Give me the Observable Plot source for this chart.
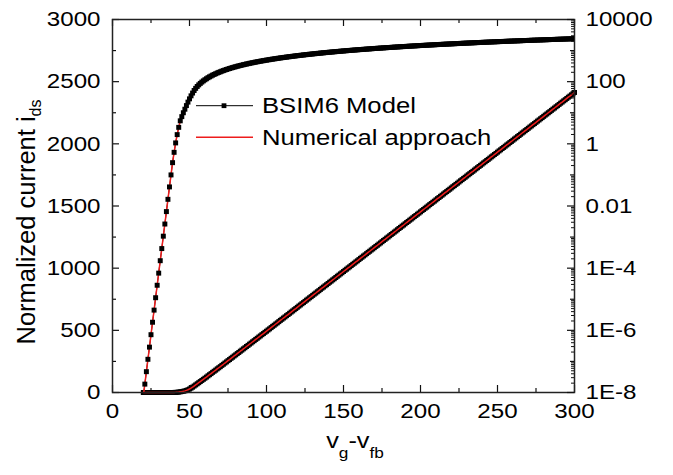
<!DOCTYPE html>
<html><head><meta charset="utf-8">
<script src="https://cdn.jsdelivr.net/npm/d3@7"></script>
<script src="https://cdn.jsdelivr.net/npm/@observablehq/plot@0.6"></script>
<style>
html,body{margin:0;padding:0;background:#fff;}
#chart{position:relative;width:673px;height:475px;font-family:"Liberation Sans",Arial,Helvetica,sans-serif;}
#chart svg{position:absolute;left:0;top:0;}
</style></head><body><div id="chart"></div>
<script>
// ---- data ----
// gate voltage grid: one sample per unit from 20 to 300 (markers are drawn at every unit)
const vg = d3.range(20, 301, 1);
const ids = [
  7.6e-9,1.86e-8,4.68e-8,1.17e-7,2.88e-7,7.24e-7,1.82e-6,4.47e-6,1.12e-5,2.82e-5,           // 20-29
  6.92e-5,1.74e-4,4.27e-4,1.07e-3,2.63e-3,6.61e-3,0.0164,0.0411,0.100,0.248,              // 30-39
  0.533,1.07,1.98,3.39,5.5,7.5,10,13,17,22,                                               // 40-49
  28,35,43,52,61,70,79,88,97,106,                                                          // 50-59
  115,124,134,143,152,162,171,180,190,199,                                                 // 60-69
  208,218,227,237,246,256,265,275,284,294,                                                 // 70-79
  303,313,322,332,341,351,360,370,379,389,                                                 // 80-89
  398,408,417,427,436,446,455,465,474,484,                                                 // 90-99
  493,503,512,522,532,541,551,560,570,580,                                                 // 100-109
  589,599,608,618,627,637,647,656,666,675,                                                 // 110-119
  685,695,704,714,723,733,743,752,762,771,                                                 // 120-129
  781,791,800,810,819,829,839,848,858,867,                                                 // 130-139
  877,887,896,906,915,925,935,944,954,963,                                                 // 140-149
  973,983,992,1002,1011,1021,1031,1040,1050,1059,                                          // 150-159
  1069,1079,1088,1098,1107,1117,1127,1136,1146,1155,                                       // 160-169
  1165,1175,1184,1194,1203,1213,1223,1232,1242,1251,                                       // 170-179
  1261,1271,1280,1290,1299,1309,1319,1328,1338,1347,                                       // 180-189
  1357,1367,1376,1386,1395,1405,1415,1424,1434,1443,                                       // 190-199
  1453,1463,1472,1482,1491,1501,1511,1520,1530,1539,                                       // 200-209
  1549,1559,1568,1578,1587,1597,1607,1616,1626,1635,                                       // 210-219
  1645,1655,1664,1674,1683,1693,1703,1712,1722,1731,                                       // 220-229
  1741,1751,1760,1770,1779,1789,1799,1808,1818,1827,                                       // 230-239
  1837,1847,1856,1866,1875,1885,1895,1904,1914,1923,                                       // 240-249
  1933,1943,1952,1962,1971,1981,1991,2000,2010,2019,                                       // 250-259
  2029,2039,2048,2058,2067,2077,2087,2096,2106,2115,                                       // 260-269
  2125,2135,2144,2154,2163,2173,2183,2192,2202,2211,                                       // 270-279
  2221,2231,2240,2250,2259,2269,2279,2288,2298,2307,                                       // 280-289
  2317,2327,2336,2346,2355,2365,2375,2384,2394,2403,                                       // 290-299
  2413];                                                                                   // 300
const numerical = ids; // the numerical curve coincides with the BSIM6 model curve in the picture

const xTicks = [0,50,100,150,200,250,300];
const xMinorTicks = [25,75,125,175,225,275];
const leftTicks = [0,500,1000,1500,2000,2500,3000];
const leftMinorTicks = [250,750,1250,1750,2250,2750];
const rightTicks = [1e-8,1e-6,1e-4,1e-2,1,1e2,1e4];
const rightTickLabels = ["1E-8","1E-6","1E-4","0.01","1","100","10000"];
const rightMidTicks = [1e-7,1e-5,1e-3,1e-1,10,1000];
const rightMinorTicks = [];
for (let e = -8; e < 4; e++) for (let k = 2; k < 10; k++) rightMinorTicks.push(k * Math.pow(10, e));

const seriesNames = ["BSIM6 Model", "Numerical approach"];
const xTitle = ["v", "g", "-v", "fb"];
const yTitle = ["Normalized current i", "ds"];

// ---- layout ----
const W = 673, H = 475;
const M = {marginLeft: 112, marginRight: 99, marginTop: 19, marginBottom: 83};
const plotW = W - M.marginLeft - M.marginRight;
const plotH = H - M.marginTop - M.marginBottom;
const MAJ = 7, MIN = 4, TINY = 3;
const RED = "#ee1c1c";
const FONT = "Liberation Sans, Arial, Helvetica, sans-serif";
const SX = 1.15;
const R = 2.8;
const tk = {stroke: "#111", strokeWidth: 1.2};

const rows = vg.map((x, i) => ({x, bsim: ids[i], num: numerical[i]}));

const A = Plot.plot({
  width: W, height: H, ...M,
  x: {domain: [0, 300], axis: null},
  y: {domain: [0, 3000], axis: null},
  style: {background: "white", fontFamily: FONT, fontSize: "21px", color: "black"},
  marks: [
    Plot.tickY(leftTicks, {y: d => d, insetRight: plotW - MAJ, ...tk}),
    Plot.tickY(leftMinorTicks, {y: d => d, insetRight: plotW - MIN, ...tk}),
    Plot.tickX(xTicks, {x: d => d, insetTop: plotH - MAJ, ...tk}),
    Plot.tickX(xMinorTicks, {x: d => d, insetTop: plotH - MIN, ...tk}),
    Plot.tickX(xTicks, {x: d => d, insetBottom: plotH - MAJ, ...tk}),
    Plot.tickX(xMinorTicks, {x: d => d, insetBottom: plotH - MIN, ...tk}),
    Plot.axisY(leftTicks, {anchor: "left", tickSize: 0, tickPadding: 12, fontSize: 21, label: null, tickFormat: d => String(d)}),
    Plot.axisX(xTicks, {anchor: "bottom", tickSize: 0, tickPadding: 11, fontSize: 21, label: null, tickFormat: d => String(d)}),
    Plot.line(rows, {x: "x", y: "bsim", stroke: "black", strokeWidth: 1}),
    Plot.dot(rows, {x: "x", y: "bsim", symbol: "square", r: R, fill: "black", stroke: null}),
    Plot.line(rows, {x: "x", y: "num", stroke: RED, strokeWidth: 1.5}),
    Plot.frame({stroke: "#222", strokeWidth: 1.5})
  ]
});

const B = Plot.plot({
  width: W, height: H, ...M,
  x: {domain: [0, 300], axis: null},
  y: {type: "log", domain: [1e-8, 1e4], axis: null},
  style: {background: "transparent", fontFamily: FONT, fontSize: "21px", color: "black"},
  marks: [
    Plot.tickY(rightTicks, {y: d => d, insetLeft: plotW - MAJ, ...tk}),
    Plot.tickY(rightMidTicks, {y: d => d, insetLeft: plotW - MIN, ...tk}),
    Plot.tickY(rightMinorTicks, {y: d => d, insetLeft: plotW - TINY, stroke: "#111", strokeWidth: 1}),
    Plot.axisY(rightTicks, {anchor: "right", tickSize: 0, tickPadding: 11, fontSize: 21, label: null,
      tickFormat: d => rightTickLabels[rightTicks.findIndex(t => Math.abs(Math.log10(t) - Math.log10(d)) < 1e-6)]}),
    Plot.line(rows, {x: "x", y: "bsim", stroke: "black", strokeWidth: 1, clip: true}),
    Plot.line(rows, {x: "x", y: "num", stroke: RED, strokeWidth: 1.5, clip: true}),
    Plot.dot(rows, {x: "x", y: "bsim", symbol: "square", r: R, fill: "black", stroke: null, clip: true})
  ]
});

// overlay: legend and axis titles
const C = d3.create("svg").attr("width", W).attr("height", H)
  .attr("font-family", FONT).style("background", "transparent");
const lg = C.append("g");
lg.append("line").attr("x1", 196).attr("x2", 253).attr("y1", 105.7).attr("y2", 105.7).attr("stroke", "black").attr("stroke-width", 1);
lg.append("rect").attr("x", 224 - 2.4).attr("y", 105.7 - 2.4).attr("width", 4.8).attr("height", 4.8).attr("fill", "black");
lg.append("text").attr("x", 262).attr("y", 112.7).attr("font-size", 22.3).text(seriesNames[0]);
lg.append("line").attr("x1", 196).attr("x2", 253).attr("y1", 137.3).attr("y2", 137.3).attr("stroke", RED).attr("stroke-width", 1.5);
lg.append("text").attr("x", 262).attr("y", 144.7).attr("font-size", 22.3).text(seriesNames[1]);

const xt = C.append("text").attr("x", 355).attr("y", 448).attr("text-anchor", "middle").attr("font-size", 22);
xt.append("tspan").text(xTitle[0]);
xt.append("tspan").attr("font-size", 15).attr("dy", 10).text(xTitle[1]);
xt.append("tspan").attr("dy", -10).text(xTitle[2]);
xt.append("tspan").attr("font-size", 15).attr("dy", 10).text(xTitle[3]);

const yt = C.append("text").attr("transform", "translate(35,222) rotate(-90)").attr("text-anchor", "middle").attr("font-size", 25.5);
yt.append("tspan").text(yTitle[0]);
yt.append("tspan").attr("font-size", 16).attr("dy", 6).text(yTitle[1]);

const chart = document.getElementById("chart");
chart.append(A, B, C.node());

// horizontal stretch of upright text, as in the picture (wrap each text in a scaled group)
const NS = "http://www.w3.org/2000/svg";
Array.from(chart.querySelectorAll("text")).forEach(t => {
  const tr = t.getAttribute("transform") || "";
  if (/rotate/.test(tr)) return;
  const anchor = getComputedStyle(t).textAnchor;
  const g = document.createElementNS(NS, "g");
  t.parentNode.insertBefore(g, t);
  g.appendChild(t);
  const bb = g.getBBox();
  const ax = anchor === "end" ? bb.x + bb.width : anchor === "middle" ? bb.x + bb.width / 2 : bb.x;
  g.setAttribute("transform", `translate(${ax},0) scale(${SX},1) translate(${-ax},0)`);
});
</script></body></html>
